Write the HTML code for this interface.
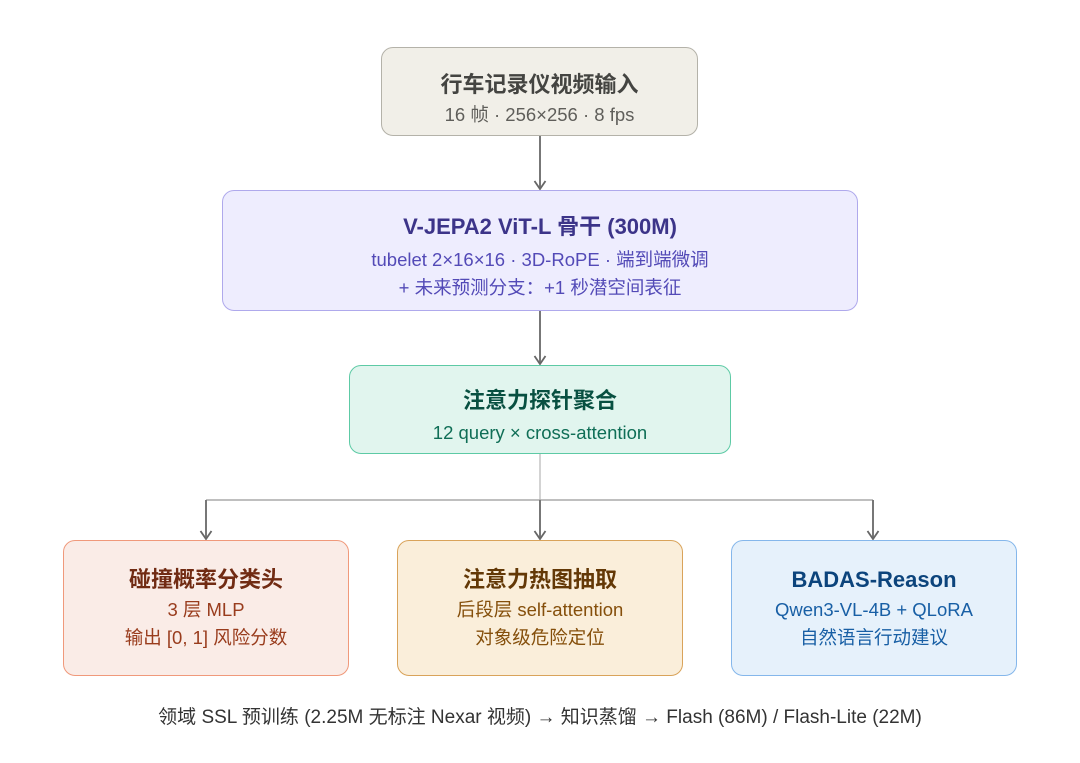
<!DOCTYPE html>
<html><head><meta charset="utf-8"><style>
body{margin:0;width:1080px;height:763px;background:#fff;position:relative;font-family:"Liberation Sans","Noto Sans CJK SC",sans-serif;overflow:hidden}
.b{position:absolute;box-sizing:border-box;border:1.5px solid;border-radius:12px;text-align:center}
.t{position:absolute;left:0;right:0;font-weight:bold;font-size:22px;line-height:26px;white-space:nowrap}
.s{position:absolute;left:0;right:0;font-size:18.5px;line-height:22px;white-space:nowrap}
</style></head><body>
<svg width="1080" height="763" style="position:absolute;left:0;top:0">
<defs><marker id="a" markerWidth="14" markerHeight="14" refX="11" refY="7" orient="auto" markerUnits="userSpaceOnUse"><path d="M3,1.5 L11,7 L3,12.5" fill="none" stroke="#666" stroke-width="1.8"/></marker></defs>
<g stroke="#777" stroke-width="2" fill="none">
<line x1="540" y1="136" x2="540" y2="189" marker-end="url(#a)"/>
<line x1="540" y1="311" x2="540" y2="364" marker-end="url(#a)"/>
<line x1="540" y1="454" x2="540" y2="500" stroke="#bbb" stroke-width="1.3"/>
<path d="M206,500 H873" stroke="#aaa" stroke-width="1.5"/>
<line x1="206" y1="500" x2="206" y2="539" marker-end="url(#a)"/>
<line x1="540" y1="500" x2="540" y2="539" marker-end="url(#a)"/>
<line x1="873" y1="500" x2="873" y2="539" marker-end="url(#a)"/>
</g></svg>
<div class="b" style="left:381px;top:47px;width:317px;height:89px;background:#f1efe8;border-color:#b4b2a9">
<div class="t" style="top:24px;color:#444441">行车记录仪视频输入</div>
<div class="s" style="top:56px;color:#5f5e5a">16 帧 · 256×256 · 8 fps</div></div>
<div class="b" style="left:222px;top:190px;width:636px;height:121px;background:#eeedfe;border-color:#afa9ec">
<div class="t" style="top:23px;color:#3c3489">V-JEPA2 ViT-L 骨干 (300M)</div>
<div class="s" style="top:58px;color:#534ab7">tubelet 2×16×16 · 3D-RoPE · 端到端微调</div>
<div class="s" style="top:86px;color:#534ab7">+ 未来预测分支：+1 秒潜空间表征</div></div>
<div class="b" style="left:349px;top:365px;width:382px;height:89px;background:#e1f5ee;border-color:#5dcaa5">
<div class="t" style="top:22px;color:#085041">注意力探针聚合</div>
<div class="s" style="top:56px;color:#0f6e56">12 query × cross-attention</div></div>
<div class="b" style="left:63px;top:540px;width:286px;height:136px;background:#faece7;border-color:#f0997b">
<div class="t" style="top:26px;color:#712b13">碰撞概率分类头</div>
<div class="s" style="top:58px;color:#993c1d">3 层 MLP</div>
<div class="s" style="top:86px;color:#993c1d">输出 [0, 1] 风险分数</div></div>
<div class="b" style="left:397px;top:540px;width:286px;height:136px;background:#faeeda;border-color:#d9a35a">
<div class="t" style="top:26px;color:#633806">注意力热图抽取</div>
<div class="s" style="top:58px;color:#854f0b">后段层 self-attention</div>
<div class="s" style="top:86px;color:#854f0b">对象级危险定位</div></div>
<div class="b" style="left:731px;top:540px;width:286px;height:136px;background:#e6f1fb;border-color:#85b7eb">
<div class="t" style="top:26px;color:#0c447c">BADAS-Reason</div>
<div class="s" style="top:58px;color:#185fa5">Qwen3-VL-4B + QLoRA</div>
<div class="s" style="top:86px;color:#185fa5">自然语言行动建议</div></div>
<div style="position:absolute;left:0;right:0;top:706px;text-align:center;font-size:19px;line-height:24px;color:#333;white-space:nowrap">领域 SSL 预训练 (2.25M 无标注 Nexar 视频) → 知识蒸馏 → Flash (86M) / Flash-Lite (22M)</div>
</body></html>
